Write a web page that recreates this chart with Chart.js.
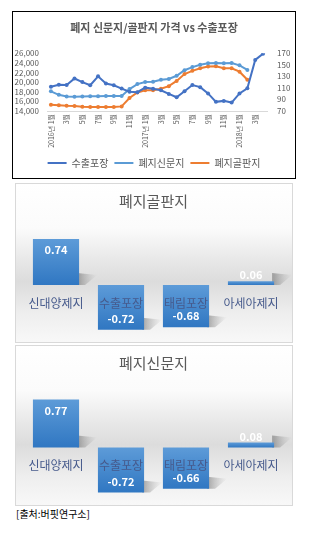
<!DOCTYPE html>
<html>
<head>
<meta charset="utf-8">
<script src="https://cdn.jsdelivr.net/npm/chart.js@4.4.0/dist/chart.umd.min.js"></script>
<style>
  body { margin: 0; background: #fff; width: 311px; height: 535px; position: relative; overflow: hidden; font-family: 'Noto Sans CJK KR', sans-serif; }
  .box { position: absolute; box-sizing: border-box; }
  #lineBox { left: 12px; top: 11px; width: 284px; height: 168px; border: 1px solid #000; }
  .panel { left: 15px; width: 278px; border: 1px solid #d9d9d9;
    background: linear-gradient(to bottom, #ffffff 0%, #fbfbfb 28%, #e6e6e6 50%, #dcdcdc 62%, #eeeeee 82%, #f8f8f8 100%); }
  #panelA { top: 183px; height: 160px; }
  #panelB { top: 345px; height: 161px; }
  #source { position: absolute; left: 16px; top: 506px; font-size: 10px; color: #000; }
</style>
</head>
<body>
<div class="box" id="lineBox"><canvas id="lineChart" width="282" height="166"></canvas></div>
<div class="box panel" id="panelA"><canvas id="barA" width="276" height="158"></canvas></div>
<div class="box panel" id="panelB"><canvas id="barB" width="276" height="159"></canvas></div>
<div id="source">[출처:버핏연구소]</div>
<script>
// line chart data
const months = ['2016년 1월', '2월', '3월', '4월', '5월', '6월', '7월', '8월', '9월', '10월', '11월', '12월',
  '2017년 1월', '2월', '3월', '4월', '5월', '6월', '7월', '8월', '9월', '10월', '11월', '12월',
  '2018년 1월', '2월', '3월', '4월'];
const exportPack = [19050, 19450, 19400, 20750, 20000, 19350, 21200, 19700, 19350, 18650, 18000, 17900,
  18850, 18600, 18300, 17550, 16850, 18100, 19400, 18950, 17650, 15900, 16100, 15750,
  17650, 18700, 24600, 25900];
const newsPaper = [104, 98, 95, 94.5, 95, 95.5, 95.5, 96, 96, 96, 108, 116.5,
  120, 120.5, 124, 125.5, 131, 140.5, 146, 150, 152.5, 153, 152.5, 153,
  149, 141];
const corrugated = [81, 80, 79, 78.5, 77.5, 77, 77, 77, 77, 78, 92.5, 102,
  106, 106, 108.5, 113, 122, 134, 139.5, 144, 147, 147.5, 144, 144,
  138, 124];
const leftTicks = [14000, 16000, 18000, 20000, 22000, 24000, 26000];
const rightTicks = [70, 90, 110, 130, 150, 170];

// bar charts data
const companies = ['신대양제지', '수출포장', '태림포장', '아세아제지'];
const corrCorrugated = [0.74, -0.72, -0.68, 0.06];
const corrNewspaper = [0.77, -0.72, -0.66, 0.08];

Chart.defaults.font.family = "'Noto Sans CJK KR', 'Noto Sans', sans-serif";
Chart.defaults.animation = false;

const gray = '#595959';

new Chart(document.getElementById('lineChart'), {
  type: 'line',
  data: {
    labels: months,
    datasets: [
      { label: '수출포장', data: exportPack, yAxisID: 'y', borderColor: '#4472c4', backgroundColor: '#4472c4' },
      { label: '폐지신문지', data: newsPaper, yAxisID: 'y1', borderColor: '#5b9bd5', backgroundColor: '#5b9bd5' },
      { label: '폐지골판지', data: corrugated, yAxisID: 'y1', borderColor: '#ed7d31', backgroundColor: '#ed7d31' },
    ],
  },
  options: {
    responsive: false,
    elements: {
      line: { borderWidth: 2, tension: 0 },
      point: { radius: 2, borderWidth: 0 },
    },
    layout: { padding: 0 },
    scales: {
      x: {
        offset: true,
        grid: { display: false, drawTicks: false },
        border: { display: true, color: '#d9d9d9' },
        ticks: {
          autoSkip: false, minRotation: 90, maxRotation: 90, padding: 3,
          font: { size: 7 }, color: gray,
          callback: function (v, i) { return i % 2 === 0 ? this.getLabelForValue(v) : ''; },
        },
        afterFit: (s) => { s.height = 41; },
      },
      y: {
        position: 'left', min: 14000, max: 26000,
        grid: { display: false, drawTicks: false },
        border: { display: false },
        afterBuildTicks: (s) => { s.ticks = leftTicks.map((v) => ({ value: v })); },
        ticks: { autoSkip: false, font: { size: 8 }, color: gray, padding: 8, callback: (v) => v.toLocaleString('en-US') },
        afterFit: (s) => { s.width = 34; },
      },
      y1: {
        position: 'right', min: 70, max: 170,
        grid: { display: false, drawTicks: false },
        border: { display: false },
        afterBuildTicks: (s) => { s.ticks = rightTicks.map((v) => ({ value: v })); },
        ticks: { autoSkip: false, font: { size: 8 }, color: gray, padding: 10 },
        afterFit: (s) => { s.width = 28; },
      },
    },
    plugins: {
      title: {
        display: true, text: '폐지 신문지/골판지 가격 vs 수출포장', color: gray,
        font: { size: 11, weight: 'bold' }, padding: { top: 9, bottom: 19 },
      },
      legend: {
        position: 'bottom',
        labels: {
          boxWidth: 19, boxHeight: 2, padding: 6, color: gray, font: { size: 10 },
          generateLabels: (chart) => Chart.defaults.plugins.legend.labels.generateLabels(chart).map((l) => ({ ...l, lineWidth: 0 })),
        },
      },
      tooltip: { enabled: false },
    },
  },
});

// value labels + floor shadow for the bar charts
const barDecor = {
  id: 'barDecor',
  beforeDatasetsDraw(chart) {
    const ctx = chart.ctx;
    chart.getDatasetMeta(0).data.forEach((el) => {
      const bottom = Math.max(el.y, el.base);
      const right = el.x + el.width / 2;
      const g = ctx.createLinearGradient(right, 0, right + 18, 0);
      g.addColorStop(0, 'rgba(90,90,90,0.45)');
      g.addColorStop(1, 'rgba(150,150,150,0)');
      ctx.save();
      ctx.fillStyle = g;
      ctx.beginPath();
      ctx.moveTo(right - 2, bottom);
      ctx.lineTo(right - 2, bottom - 12);
      ctx.lineTo(right + 18, bottom - 10);
      ctx.lineTo(right + 6, bottom);
      ctx.closePath();
      ctx.fill();
      ctx.restore();
    });
  },
  afterDatasetsDraw(chart) {
    const ctx = chart.ctx;
    const values = chart.data.datasets[0].data;
    chart.getDatasetMeta(0).data.forEach((el, i) => {
      const v = values[i];
      let y;
      if (v >= 0) y = (el.base - el.y) > 20 ? el.y + 11 : el.y - 6;
      else y = el.y - 11;
      ctx.save();
      ctx.font = "bold 11px 'Noto Sans CJK KR', sans-serif";
      ctx.fillStyle = '#ffffff';
      ctx.textAlign = 'center';
      ctx.textBaseline = 'middle';
      ctx.fillText(v.toFixed(2), el.x, y);
      ctx.restore();
    });
  },
};

function barFill(c) {
  const chart = c.chart;
  const ys = chart.scales.y;
  const v = c.raw;
  if (!ys || v == null) return '#4a8bd0';
  const top = ys.getPixelForValue(Math.max(v, 0));
  const bot = ys.getPixelForValue(Math.min(v, 0));
  if (!isFinite(top) || !isFinite(bot) || bot - top < 1) return '#4a8bd0';
  const g = chart.ctx.createLinearGradient(0, top, 0, bot);
  g.addColorStop(0, '#5d9bd8');
  g.addColorStop(1, '#3077c2');
  return g;
}

function makeBar(id, title, values) {
  return new Chart(document.getElementById(id), {
    type: 'bar',
    data: {
      labels: companies,
      datasets: [{ data: values, backgroundColor: barFill, borderWidth: 0, categoryPercentage: 1, barPercentage: 0.71 }],
    },
    options: {
      responsive: false,
      layout: { padding: { left: 7.5, right: 8.5, top: 0, bottom: 7.4 } },
      scales: {
        x: {
          position: { y: 0 },
          grid: { display: false, drawTicks: false },
          border: { display: false },
          ticks: { z: 1, autoSkip: false, maxRotation: 0, padding: 11, font: { size: 12 }, color: '#465a8c' },
        },
        y: { display: false, min: -0.8, max: 1.0 },
      },
      plugins: {
        title: { display: true, text: title, color: gray, font: { size: 15, weight: 'normal' }, padding: { top: 8, bottom: 13 } },
        legend: { display: false },
        tooltip: { enabled: false },
      },
    },
    plugins: [barDecor],
  });
}

makeBar('barA', '폐지골판지', corrCorrugated);
makeBar('barB', '폐지신문지', corrNewspaper);
</script>
</body>
</html>
